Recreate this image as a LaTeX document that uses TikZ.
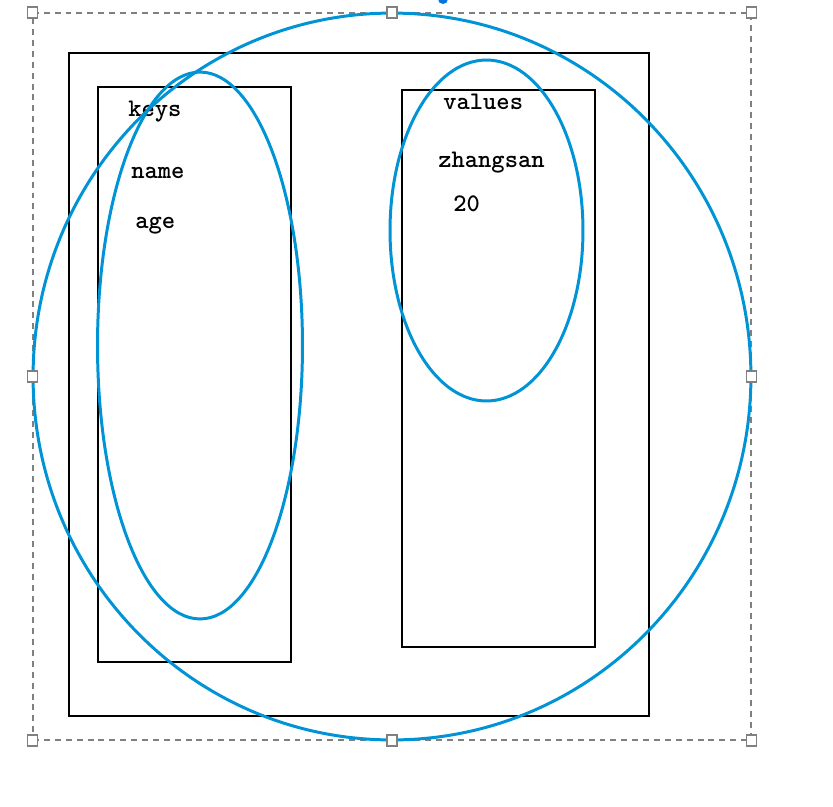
\documentclass[tikz,border=0pt]{standalone}
\usepackage{tikz}
\usetikzlibrary{shapes.geometric}
\definecolor{selblue}{RGB}{0,148,214}
\definecolor{selgray}{RGB}{128,128,128}
\tikzset{box/.style={draw,line width=1.1pt,inner sep=0pt},
    loop/.style={draw=selblue,ellipse,line width=1.7pt,inner sep=0pt},
    handle/.style={draw=selgray,fill=white,line width=0.7pt,inner sep=0pt,
        minimum width=0.2cm,minimum height=0.22cm},
    word/.style={anchor=base west,inner sep=0pt,font=\ttfamily\bfseries\fontsize{14.4}{16}\selectfont}}

\begin{document}
\begin{tikzpicture}[x=0.02cm,y=-0.02cm]
\useasboundingbox[fill=white] (0,0) rectangle (833,806);

\node[box,
    minimum width=11.6cm,
    minimum height=13.26cm
] (map) at (359,384.5) {};

\node[box,
    minimum width=3.86cm,
    minimum height=11.5cm
] (keyset) at (194.5,374.5) {};

\node[box,
    minimum width=3.86cm,
    minimum height=11.14cm
] (valueset) at (498.5,368.5) {};

% texts
\node[word] (keys) at (128,116) {keys};
\node[word] (name) at (131,178) {name};
\node[word] (age) at (135,228) {age};
\node[word] (values) at (443,109) {values};
\node[word] (zhangsan) at (438,167) {zhangsan};
\node[word] (twenty) at (453,211) {20};

% selection frame
\node[draw=selgray,dash pattern=on 3.4pt off 2.8pt,line width=0.7pt,inner sep=0pt,
    minimum width=14.36cm,
    minimum height=14.54cm
] (frame) at (392,376.5) {};

% blue loops
\node[loop,
    minimum width=14.36cm,
    minimum height=14.54cm
] (bigloop) at (392,376.5) {};

\node[loop,
    minimum width=4.1cm,
    minimum height=10.94cm
] (keyloop) at (200,345.5) {};

\node[loop,
    minimum width=3.86cm,
    minimum height=6.82cm
] (valueloop) at (486.5,230.5) {};

% handles
\node[handle] (h1) at (frame.north west) {};
\node[handle] (h2) at (frame.north) {};
\node[handle] (h3) at (frame.north east) {};
\node[handle] (h4) at (frame.west) {};
\node[handle] (h5) at (frame.east) {};
\node[handle] (h6) at (frame.south west) {};
\node[handle] (h7) at (frame.south) {};
\node[handle] (h8) at (frame.south east) {};

\fill[selblue!80!blue] (443,-1) circle[radius=0.1cm];
\end{tikzpicture}
\end{document}
